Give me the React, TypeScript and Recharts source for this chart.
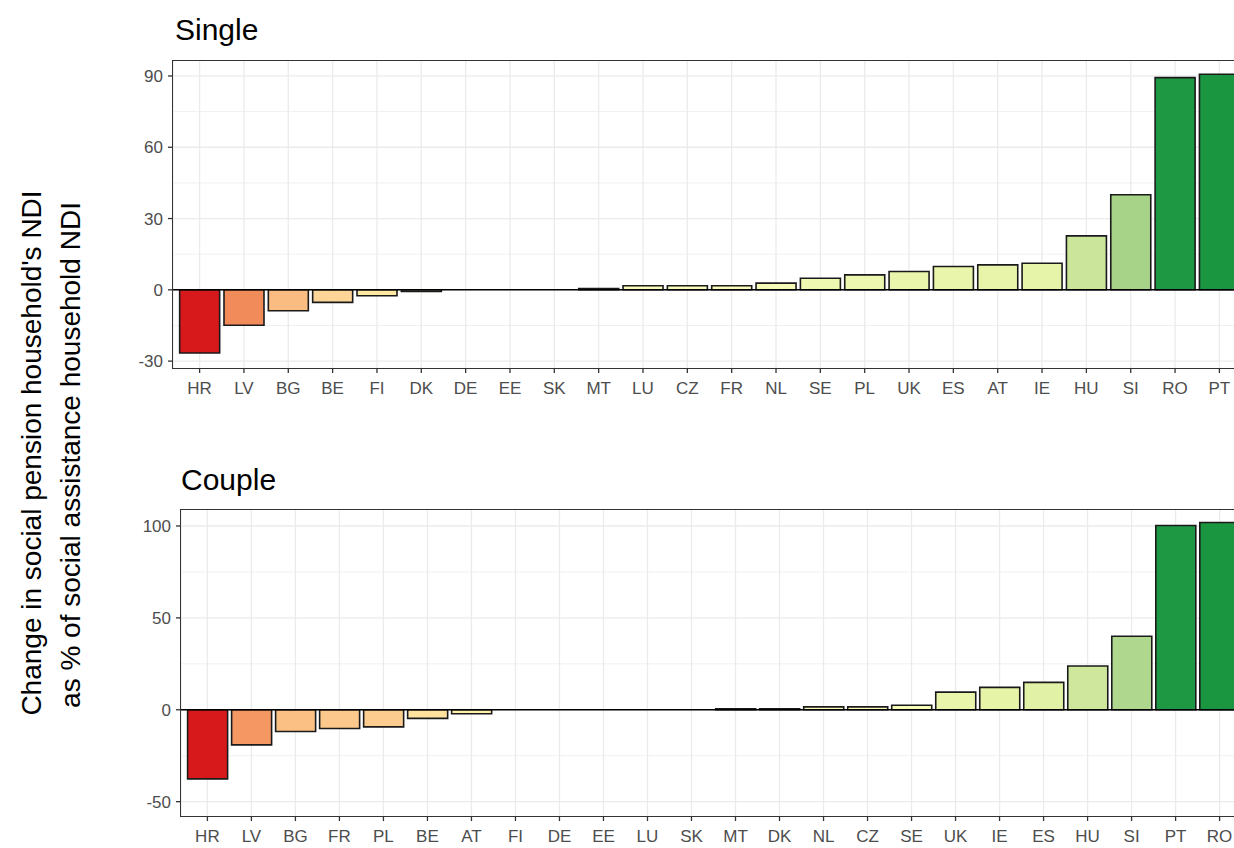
import React from 'react';
import {
  BarChart,
  Bar,
  Cell,
  XAxis,
  YAxis,
  CartesianGrid,
  ReferenceLine
} from 'recharts';

// Single households, sorted by value
const singleCountries = ['HR', 'LV', 'BG', 'BE', 'FI', 'DK', 'DE', 'EE', 'SK', 'MT', 'LU', 'CZ', 'FR', 'NL', 'SE', 'PL', 'UK', 'ES', 'AT', 'IE', 'HU', 'SI', 'RO', 'PT'];
const singleValues = [-26.6, -14.9, -8.8, -5.3, -2.5, -0.7, 0, 0, 0, 0.5, 1.7, 1.7, 1.7, 2.8, 4.9, 6.3, 7.7, 9.8, 10.5, 11.2, 22.7, 40.0, 89.3, 90.7];
const singleTicks = [-30, 0, 30, 60, 90];
const singleMinor = [-15, 15, 45, 75];
const singleDomain = [-32.9, 96.3];

// Couple households
const coupleCountries = ['HR', 'LV', 'BG', 'FR', 'PL', 'BE', 'AT', 'FI', 'DE', 'EE', 'LU', 'SK', 'MT', 'DK', 'NL', 'CZ', 'SE', 'UK', 'IE', 'ES', 'HU', 'SI', 'PT', 'RO'];
const coupleValues = [-37.6, -19.1, -11.8, -10.2, -9.3, -4.7, -2.2, 0, 0, 0, 0, 0, 0.5, 0.5, 1.6, 1.6, 2.5, 9.6, 12.2, 14.9, 23.8, 40.0, 100.3, 101.9];
const coupleTicks = [-50, 0, 50, 100];
const coupleMinor = [-25, 25, 75];
const coupleDomain = [-57.8, 108.7];

const FONT = '"Liberation Sans", Arial, Helvetica, sans-serif';

// diverging fill: negatives scaled by panel min, positives by panel max
const negStops: [number, string][] = [
  [0, '#ffffbf'], [0.1, '#fee6a0'], [0.2, '#fdd597'], [0.3, '#fbc386'], [0.55, '#f28e5b'], [1, '#d7191c']
];
const posStops: [number, string][] = [
  [0, '#ffffbf'], [0.05, '#f0f8b2'], [0.12, '#e6f4a8'], [0.25, '#cbe59b'], [0.44, '#a6d388'], [1, '#1a9641']
];

function hexToRgb(h: string) {
  const n = parseInt(h.slice(1), 16);
  return [(n >> 16) & 255, (n >> 8) & 255, n & 255];
}

function interp(stops: [number, string][], t: number) {
  for (let i = 1; i < stops.length; i++) {
    if (t <= stops[i][0]) {
      const [t0, c0] = stops[i - 1];
      const [t1, c1] = stops[i];
      const f = (t - t0) / (t1 - t0);
      const a = hexToRgb(c0);
      const b = hexToRgb(c1);
      const c = a.map((v, k) => Math.round(v + (b[k] - v) * f));
      return `rgb(${c[0]},${c[1]},${c[2]})`;
    }
  }
  return stops[stops.length - 1][1];
}

function fillFor(v: number, min: number, max: number) {
  if (v < 0) return interp(negStops, Math.min(1, v / min));
  return interp(posStops, Math.min(1, v / max));
}

interface PanelProps {
  countries: string[];
  values: number[];
  ticks: number[];
  minor: number[];
  domain: number[];
  top: number;
  plotLeft: number;
  plotTop: number;
  plotBottom: number;
}

const CHART_W = 1262;
const CHART_H = 420;
const PLOT_RIGHT = 1246;
const Y_W = 60;
const X_H = 30;

function Panel({ countries, values, ticks, minor, domain, top, plotLeft, plotTop, plotBottom }: PanelProps) {
  const data = countries.map((c, i) => ({ country: c, value: values[i] }));
  const min = Math.min(...values);
  const max = Math.max(...values);

  const plotW = PLOT_RIGHT - plotLeft;
  const step = plotW / (countries.length + 0.2);
  const pad = step * 0.1;

  const margin = {
    top: plotTop - top,
    right: CHART_W - PLOT_RIGHT,
    left: plotLeft - Y_W,
    bottom: CHART_H - (plotBottom - top) - X_H
  };

  const tickStyle = { fill: '#4d4d4d', fontSize: 17, fontFamily: FONT };

  return (
    <div style={{ position: 'absolute', left: 0, top }}>
      <BarChart width={CHART_W} height={CHART_H} data={data} margin={margin} barCategoryGap="5%">
        <CartesianGrid stroke="#f0f0f0" strokeWidth={1} vertical={false} horizontalValues={minor} />
        <CartesianGrid stroke="#ebebeb" strokeWidth={1.3} horizontalValues={ticks} />
        <XAxis
          dataKey="country"
          interval={0}
          height={X_H}
          padding={{ left: pad, right: pad }}
          axisLine={false}
          tickLine={{ stroke: '#333333', strokeWidth: 1.3 }}
          tickSize={5}
          tickMargin={9}
          tick={tickStyle}
        />
        <YAxis
          width={Y_W}
          type="number"
          domain={domain}
          ticks={ticks}
          allowDataOverflow
          axisLine={false}
          tickLine={{ stroke: '#333333', strokeWidth: 1.3 }}
          tickSize={5}
          tickMargin={5}
          tick={tickStyle}
        />
        <Bar dataKey="value" stroke="#1a1a1a" strokeWidth={1.6} isAnimationActive={false}>
          {data.map((d) => (
            <Cell key={d.country} fill={fillFor(d.value, min, max)} />
          ))}
        </Bar>
        <ReferenceLine y={0} stroke="#000000" strokeWidth={1.5} />
      </BarChart>
      <div
        style={{
          position: 'absolute',
          left: plotLeft - 0.75,
          top: plotTop - top - 0.75,
          width: plotW + 1.5,
          height: plotBottom - plotTop + 1.5,
          border: '1.5px solid #333333',
          boxSizing: 'border-box',
          pointerEvents: 'none'
        }}
      />
    </div>
  );
}

export default function App() {
  return (
    <div
      style={{
        position: 'fixed',
        left: 0,
        top: 0,
        width: 1234,
        height: 848,
        overflow: 'hidden',
        background: '#ffffff'
      }}
    >
      <Panel
        countries={singleCountries}
        values={singleValues}
        ticks={singleTicks}
        minor={singleMinor}
        domain={singleDomain}
        top={0}
        plotLeft={173}
        plotTop={61}
        plotBottom={368}
      />
      <Panel
        countries={coupleCountries}
        values={coupleValues}
        ticks={coupleTicks}
        minor={coupleMinor}
        domain={coupleDomain}
        top={440}
        plotLeft={181}
        plotTop={510}
        plotBottom={816}
      />
      <svg
        width={1234}
        height={848}
        style={{ position: 'absolute', left: 0, top: 0, pointerEvents: 'none' }}
      >
        <text x={175} y={40} fontSize={30} fontFamily={FONT} fill="#000000">Single</text>
        <text x={181} y={490} fontSize={30} fontFamily={FONT} fill="#000000">Couple</text>
        <text
          x={41}
          y={453}
          fontSize={28}
          fontFamily={FONT}
          fill="#000000"
          textAnchor="middle"
          transform="rotate(-90, 41, 453)"
        >
          Change in social pension household's NDI
        </text>
        <text
          x={80}
          y={455}
          fontSize={28}
          fontFamily={FONT}
          fill="#000000"
          textAnchor="middle"
          transform="rotate(-90, 80, 455)"
        >
          as % of social assistance household NDI
        </text>
      </svg>
    </div>
  );
}
